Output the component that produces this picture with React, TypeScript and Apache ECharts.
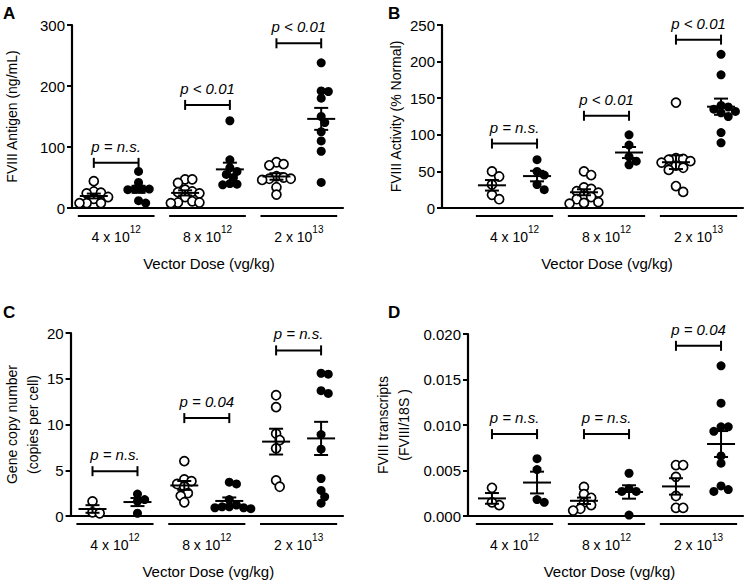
import React, { useEffect, useRef } from "react";
import * as echarts from "echarts";

const FONT = "'Liberation Sans', Arial, Helvetica, sans-serif";

// dose categories (base and exponent)
const doseBase = ["4 x 10", "8 x 10", "2 x 10"];
const doseExp = ["12", "12", "13"];

// Panel A: FVIII Antigen (ng/mL)
const antigenOpen = [
  [44, 27, 25, 24, 18, 15, 8, 8, 8],
  [47, 47, 41, 30, 27, 26, 24, 18, 11, 9, 9, 8],
  [75, 72, 70, 52, 50, 48, 48, 46, 34, 22],
];
const antigenFilled = [
  [60, 42, 31, 31, 31, 30, 12, 8],
  [143, 79, 66, 60, 55, 50, 40, 39, 38],
  [238, 192, 191, 180, 150, 140, 125, 110, 93, 42],
];
const antigenP = ["p = n.s.", "p < 0.01", "p < 0.01"];
const antigenBracket = [74, 169, 270];
const antigenTicks = [0, 300, 100];

// Panel B: FVIII Activity (% Normal)
const activityOpen = [
  [50, 43, 32, 18, 12],
  [50, 45, 28, 26, 23, 21, 17, 15, 12, 8, 7, 6],
  [144, 68, 67, 66, 64, 62, 58, 55, 52, 30, 22],
];
const activityFilled = [
  [66, 50, 45, 32, 25],
  [100, 86, 70, 64, 59],
  [210, 182, 140, 138, 135, 132, 130, 125, 103, 89],
];
const activityP = ["p = n.s.", "p < 0.01", "p < 0.01"];
const activityBracket = [88, 126, 230];
const activityTicks = [0, 250, 50];

// Panel C: Gene copy number (copies per cell)
const copyOpen = [
  [1.6, 0.4, 0.3],
  [6.0, 4.0, 3.8, 3.5, 3.2, 2.5, 2.2, 1.5],
  [13.2, 11.9, 9.0, 8.3, 7.4, 3.9, 3.2],
];
const copyFilled = [
  [2.4, 1.8, 1.6, 0.3],
  [3.7, 3.5, 1.8, 1.2, 1.0, 1.0, 0.9, 0.9, 0.8],
  [15.5, 15.6, 13.7, 13.4, 8.9, 7.3, 4.1, 2.8, 2.1, 1.4],
];
const copyP = ["p = n.s.", "p = 0.04", "p = n.s."];
const copyBracket = [4.9, 10.7, 18.1];
const copyTicks = [0, 20, 5];

// Panel D: FVIII transcripts (FVIII/18S)
const transcriptOpen = [
  [0.0031, 0.0012, 0.0015],
  [0.0032, 0.0024, 0.002, 0.0015, 0.0012, 0.0008, 0.0006],
  [0.0056, 0.0056, 0.0043, 0.0022, 0.0009, 0.0009],
];
const transcriptFilled = [
  [0.0063, 0.0051, 0.0015, 0.0018],
  [0.0047, 0.0027, 0.0027, 0.003, 0.0001],
  [0.0165, 0.0124, 0.0098, 0.0093, 0.0098, 0.0066, 0.0058, 0.0033, 0.0027, 0.0029],
];
const transcriptP = ["p = n.s.", "p = n.s.", "p = 0.04"];
const transcriptBracket = [0.009, 0.009, 0.0187];
const transcriptTicks = [0, 0.02, 0.005];

const GROUP_PX = 92; // pixels per dose group
const SIDE = 0.245; // offset of open / filled columns from group centre
const DOT = 9;

type PanelDef = {
  letter: string;
  letterPos: [number, number];
  yName: string;
  yNameGap: number;
  open: number[][];
  filled: number[][];
  pTexts: string[];
  pHeights: number[];
  ticks: number[];
  decimals: number;
  grid: { left: number; top: number; width: number; height: number };
  firstCenter: number; // px from grid left to first group centre
  titleShift: number;
};

const panels: PanelDef[] = [
  {
    letter: "A", letterPos: [3, 5], yName: "FVIII Antigen (ng/mL)", yNameGap: 50,
    open: antigenOpen, filled: antigenFilled, pTexts: antigenP, pHeights: antigenBracket,
    ticks: antigenTicks, decimals: 0,
    grid: { left: 70, top: 25, width: 273, height: 183 }, firstCenter: 44.5, titleShift: 3,
  },
  {
    letter: "B", letterPos: [388, 5], yName: "FVIII Activity (% Normal)", yNameGap: 26,
    open: activityOpen, filled: activityFilled, pTexts: activityP, pHeights: activityBracket,
    ticks: activityTicks, decimals: 0,
    grid: { left: 442, top: 25, width: 301, height: 183 }, firstCenter: 72.5, titleShift: 29,
  },
  {
    letter: "C", letterPos: [3, 304], yName: "Gene copy number\n(copies per cell)", yNameGap: 24,
    open: copyOpen, filled: copyFilled, pTexts: copyP, pHeights: copyBracket,
    ticks: copyTicks, decimals: 0,
    grid: { left: 70, top: 333, width: 273, height: 183 }, firstCenter: 44.5, titleShift: 3,
  },
  {
    letter: "D", letterPos: [388, 304], yName: "FVIII transcripts\n(FVIII/18S )", yNameGap: 54,
    open: transcriptOpen, filled: transcriptFilled, pTexts: transcriptP, pHeights: transcriptBracket,
    ticks: transcriptTicks, decimals: 3,
    grid: { left: 468, top: 334, width: 275, height: 182 }, firstCenter: 46.5, titleShift: 8,
  },
];

function swarmOffsets(values: number[], pxPerUnit: number, d: number): number[] {
  const order = values.map((_, i) => i).sort((a, b) => values[b] - values[a]);
  const placed: { x: number; y: number }[] = [];
  const out = new Array(values.length).fill(0);
  const minDist = d * 0.78;
  for (const i of order) {
    const y = values[i] * pxPerUnit;
    for (let k = 0; k < 60; k++) {
      const step = Math.ceil(k / 2) * (k % 2 === 1 ? 1 : -1) * (d * 0.4);
      const ok = placed.every((p) => (p.x - step) ** 2 + (p.y - y) ** 2 >= minDist * minDist);
      if (ok) {
        placed.push({ x: step, y });
        out[i] = step;
        break;
      }
    }
  }
  return out;
}

function meanSem(v: number[]): [number, number] {
  const n = v.length;
  const m = v.reduce((a, b) => a + b, 0) / n;
  const sd = Math.sqrt(v.reduce((a, b) => a + (b - m) ** 2, 0) / (n - 1));
  return [m, sd / Math.sqrt(n)];
}

function buildOption() {
  const grid: any[] = [];
  const xAxis: any[] = [];
  const yAxis: any[] = [];
  const series: any[] = [];
  const graphic: any[] = [];
  const lineStyle = { stroke: "#000", lineWidth: 2 };

  panels.forEach((p, k) => {
    const [yMin, yMax, yInt] = p.ticks;
    const xMin = -p.firstCenter / GROUP_PX;
    const xMax = xMin + p.grid.width / GROUP_PX;
    const pxPerUnit = p.grid.height / (yMax - yMin);
    grid.push({ ...p.grid, containLabel: false });
    xAxis.push({
      gridIndex: k,
      type: "value",
      min: xMin,
      max: xMax,
      axisLine: { show: true, onZero: false, lineStyle: { color: "#000", width: 2.2 } },
      axisTick: { show: false },
      splitLine: { show: false },
      axisLabel: {
        customValues: [0, 1, 2],
        margin: 16,
        formatter: (v: number) => {
          const i = Math.round(v);
          return `{n|${doseBase[i]}}{s|${doseExp[i]}}`;
        },
        rich: {
          n: { fontSize: 14, fontFamily: FONT, color: "#000", lineHeight: 20, verticalAlign: "bottom" },
          s: { fontSize: 10, fontFamily: FONT, color: "#000", lineHeight: 10, verticalAlign: "top" },
        },
      },
      name: "Vector Dose (vg/kg)",
      nameLocation: "middle",
      nameGap: 48,
      nameTextStyle: { fontSize: 15, fontFamily: FONT, color: "#000", padding: [0, 0, 0, p.titleShift] },
    });
    yAxis.push({
      gridIndex: k,
      type: "value",
      min: yMin,
      max: yMax,
      interval: yInt,
      axisLine: { show: true, onZero: false, lineStyle: { color: "#000", width: 2.2 } },
      axisTick: { show: true, length: 5, lineStyle: { color: "#000", width: 2 } },
      splitLine: { show: false },
      axisLabel: {
        fontSize: 15,
        fontFamily: FONT,
        color: "#000",
        margin: 7,
        formatter: (v: number) => v.toFixed(p.decimals),
      },
      name: p.yName,
      nameLocation: "middle",
      nameGap: p.yNameGap,
      nameTextStyle: { fontSize: 14, fontFamily: FONT, color: "#000", lineHeight: 21 },
    });

    const openPts: number[][] = [];
    const filledPts: number[][] = [];
    const stats: number[][] = [];
    [0, 1, 2].forEach((g) => {
      const oo = swarmOffsets(p.open[g], pxPerUnit, DOT);
      p.open[g].forEach((v, i) => openPts.push([g - SIDE + oo[i] / GROUP_PX, v]));
      const fo = swarmOffsets(p.filled[g], pxPerUnit, DOT);
      p.filled[g].forEach((v, i) => filledPts.push([g + SIDE + fo[i] / GROUP_PX, v]));
      const [m1, s1] = meanSem(p.open[g]);
      const [m2, s2] = meanSem(p.filled[g]);
      stats.push([g - SIDE, m1, s1]);
      stats.push([g + SIDE, m2, s2]);
    });

    series.push({
      type: "scatter",
      xAxisIndex: k,
      yAxisIndex: k,
      symbol: "circle",
      symbolSize: DOT,
      data: openPts,
      itemStyle: { color: "#fff", borderColor: "#000", borderWidth: 1.7, opacity: 1 },
      z: 2,
    });
    series.push({
      type: "scatter",
      xAxisIndex: k,
      yAxisIndex: k,
      symbol: "circle",
      symbolSize: DOT,
      data: filledPts,
      itemStyle: { color: "#000", opacity: 1 },
      z: 2,
    });
    // mean ± SEM
    series.push({
      type: "custom",
      xAxisIndex: k,
      yAxisIndex: k,
      z: 3,
      data: stats,
      renderItem: (_params: any, api: any) => {
        const x = api.value(0);
        const m = api.value(1);
        const s = api.value(2);
        const pm = api.coord([x, m]);
        const pt = api.coord([x, m + s]);
        const pb = api.coord([x, m - s]);
        return {
          type: "group",
          children: [
            { type: "line", shape: { x1: pm[0] - 14, y1: pm[1], x2: pm[0] + 14, y2: pm[1] }, style: lineStyle },
            { type: "line", shape: { x1: pt[0], y1: pt[1], x2: pb[0], y2: pb[1] }, style: lineStyle },
            { type: "line", shape: { x1: pt[0] - 7, y1: pt[1], x2: pt[0] + 7, y2: pt[1] }, style: lineStyle },
            { type: "line", shape: { x1: pb[0] - 7, y1: pb[1], x2: pb[0] + 7, y2: pb[1] }, style: lineStyle },
          ],
        };
      },
    });
    // significance brackets
    series.push({
      type: "custom",
      xAxisIndex: k,
      yAxisIndex: k,
      z: 3,
      data: p.pHeights.map((h, g) => [g - SIDE, h, g + SIDE, g]),
      renderItem: (_params: any, api: any) => {
        const a = api.coord([api.value(0), api.value(1)]);
        const b = api.coord([api.value(2), api.value(1)]);
        const g = api.value(3);
        return {
          type: "group",
          children: [
            { type: "line", shape: { x1: a[0], y1: a[1], x2: b[0], y2: b[1] }, style: lineStyle },
            { type: "line", shape: { x1: a[0], y1: a[1] - 5, x2: a[0], y2: a[1] + 5 }, style: lineStyle },
            { type: "line", shape: { x1: b[0], y1: b[1] - 5, x2: b[0], y2: b[1] + 5 }, style: lineStyle },
            {
              type: "text",
              x: (a[0] + b[0]) / 2,
              y: a[1] - 9,
              style: {
                text: p.pTexts[g],
                fontSize: 15,
                fontFamily: FONT,
                fontStyle: "italic",
                fill: "#000",
                align: "center",
                verticalAlign: "bottom",
              },
            },
          ],
        };
      },
    });
    // group underlines below the axis
    series.push({
      type: "custom",
      xAxisIndex: k,
      yAxisIndex: k,
      z: 3,
      clip: false,
      data: [0, 1, 2].map((g) => [g, yMin]),
      renderItem: (_params: any, api: any) => {
        const g = api.value(0);
        const a = api.coord([g - 0.42, api.value(1)]);
        const b = api.coord([g + 0.42, api.value(1)]);
        return {
          type: "line",
          shape: { x1: a[0], y1: a[1] + 8, x2: b[0], y2: b[1] + 8 },
          style: lineStyle,
        };
      },
    });

    graphic.push({
      type: "text",
      left: p.letterPos[0],
      top: p.letterPos[1],
      style: { text: p.letter, fontSize: 17, fontWeight: "bold", fontFamily: FONT, fill: "#000" },
    });
  });

  return {
    animation: false,
    backgroundColor: "#fff",
    textStyle: { color: "#000", fontFamily: FONT },
    grid,
    xAxis,
    yAxis,
    series,
    graphic,
  };
}

export default function App() {
  const ref = useRef<HTMLDivElement>(null);
  useEffect(() => {
    if (!ref.current) return;
    const chart = echarts.init(ref.current, undefined, { renderer: "svg" });
    chart.setOption(buildOption());
    return () => chart.dispose();
  }, []);
  return (
    <div
      ref={ref}
      style={{ position: "fixed", left: 0, top: 0, width: 746, height: 586, background: "#fff" }}
    />
  );
}
